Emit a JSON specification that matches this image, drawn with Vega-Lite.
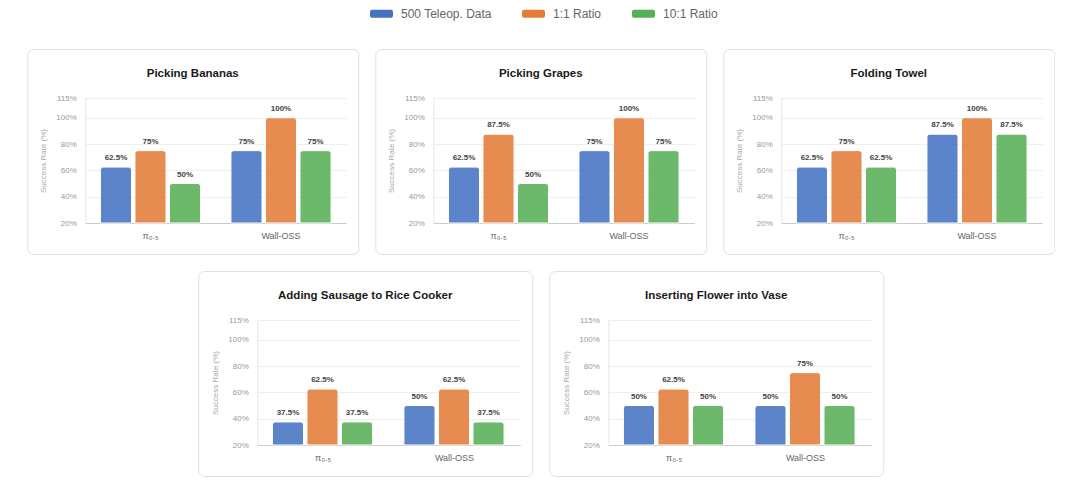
{
  "$schema": "https://vega.github.io/schema/vega-lite/v6.json",
  "background": "white",
  "padding": {"left": 26, "top": 2, "right": 0, "bottom": 0},
  "config": {
    "font": "Liberation Sans",
    "view": {"stroke": "#e0e0e0", "strokeWidth": 1, "cornerRadius": 6, "fill": "white"},
    "title": {"fontSize": 11.5, "fontWeight": "bold", "color": "#1a1a1a", "anchor": "middle", "frame": "group", "offset": -30, "baseline": "middle"},
    "axisY": {"ticks": false, "labelFontSize": 8, "labelColor": "#999999", "labelPadding": 9, "domainColor": "#e8e8e8", "gridColor": "#eeeeee", "titleFontSize": 8, "titleFontWeight": "normal", "titleColor": "#aaaaaa", "titlePadding": 8},
    "axisX": {"ticks": false, "labelAngle": 0, "labelFontSize": 9, "labelColor": "#666666", "labelPadding": 8, "domainColor": "#cccccc", "grid": false}
  },
  "data": {"values": [
    {"task": "Picking Bananas", "model": "π₀.₅", "series": "500 Teleop. Data", "rate": 0.625},
    {"task": "Picking Bananas", "model": "π₀.₅", "series": "1:1 Ratio", "rate": 0.75},
    {"task": "Picking Bananas", "model": "π₀.₅", "series": "10:1 Ratio", "rate": 0.5},
    {"task": "Picking Bananas", "model": "Wall-OSS", "series": "500 Teleop. Data", "rate": 0.75},
    {"task": "Picking Bananas", "model": "Wall-OSS", "series": "1:1 Ratio", "rate": 1.0},
    {"task": "Picking Bananas", "model": "Wall-OSS", "series": "10:1 Ratio", "rate": 0.75},
    {"task": "Picking Grapes", "model": "π₀.₅", "series": "500 Teleop. Data", "rate": 0.625},
    {"task": "Picking Grapes", "model": "π₀.₅", "series": "1:1 Ratio", "rate": 0.875},
    {"task": "Picking Grapes", "model": "π₀.₅", "series": "10:1 Ratio", "rate": 0.5},
    {"task": "Picking Grapes", "model": "Wall-OSS", "series": "500 Teleop. Data", "rate": 0.75},
    {"task": "Picking Grapes", "model": "Wall-OSS", "series": "1:1 Ratio", "rate": 1.0},
    {"task": "Picking Grapes", "model": "Wall-OSS", "series": "10:1 Ratio", "rate": 0.75},
    {"task": "Folding Towel", "model": "π₀.₅", "series": "500 Teleop. Data", "rate": 0.625},
    {"task": "Folding Towel", "model": "π₀.₅", "series": "1:1 Ratio", "rate": 0.75},
    {"task": "Folding Towel", "model": "π₀.₅", "series": "10:1 Ratio", "rate": 0.625},
    {"task": "Folding Towel", "model": "Wall-OSS", "series": "500 Teleop. Data", "rate": 0.875},
    {"task": "Folding Towel", "model": "Wall-OSS", "series": "1:1 Ratio", "rate": 1.0},
    {"task": "Folding Towel", "model": "Wall-OSS", "series": "10:1 Ratio", "rate": 0.875},
    {"task": "Adding Sausage to Rice Cooker", "model": "π₀.₅", "series": "500 Teleop. Data", "rate": 0.375},
    {"task": "Adding Sausage to Rice Cooker", "model": "π₀.₅", "series": "1:1 Ratio", "rate": 0.625},
    {"task": "Adding Sausage to Rice Cooker", "model": "π₀.₅", "series": "10:1 Ratio", "rate": 0.375},
    {"task": "Adding Sausage to Rice Cooker", "model": "Wall-OSS", "series": "500 Teleop. Data", "rate": 0.5},
    {"task": "Adding Sausage to Rice Cooker", "model": "Wall-OSS", "series": "1:1 Ratio", "rate": 0.625},
    {"task": "Adding Sausage to Rice Cooker", "model": "Wall-OSS", "series": "10:1 Ratio", "rate": 0.375},
    {"task": "Inserting Flower into Vase", "model": "π₀.₅", "series": "500 Teleop. Data", "rate": 0.5},
    {"task": "Inserting Flower into Vase", "model": "π₀.₅", "series": "1:1 Ratio", "rate": 0.625},
    {"task": "Inserting Flower into Vase", "model": "π₀.₅", "series": "10:1 Ratio", "rate": 0.5},
    {"task": "Inserting Flower into Vase", "model": "Wall-OSS", "series": "500 Teleop. Data", "rate": 0.5},
    {"task": "Inserting Flower into Vase", "model": "Wall-OSS", "series": "1:1 Ratio", "rate": 0.75},
    {"task": "Inserting Flower into Vase", "model": "Wall-OSS", "series": "10:1 Ratio", "rate": 0.5}
  ]},
  "spacing": 15,
  "center": true,
  "vconcat": [
    {"spacing": 15, "hconcat": [
      {"width": 331, "height": 205, "title": "Picking Bananas",
       "transform": [{"filter": "datum.task === 'Picking Bananas'"}],
       "encoding": {
         "x": {"field": "model", "type": "nominal", "sort": ["π₀.₅", "Wall-OSS"], "scale": {"range": [58, 319], "paddingInner": 0, "paddingOuter": 0}, "axis": {"title": null, "offset": -31}},
         "xOffset": {"field": "series", "type": "nominal", "sort": ["500 Teleop. Data", "1:1 Ratio", "10:1 Ratio"], "scale": {"paddingInner": 0.1, "paddingOuter": 0.44}},
         "y": {"field": "rate", "type": "quantitative", "scale": {"domain": [0.2, 1.15], "range": [174, 49], "zero": false, "nice": false}, "axis": {"title": "Success Rate (%)", "offset": -58, "values": [0.2, 0.4, 0.6, 0.8, 1, 1.15], "format": ".0%"}}
       },
       "layer": [
         {"mark": {"type": "bar", "cornerRadiusTopLeft": 3, "cornerRadiusTopRight": 3, "stroke": "white", "strokeWidth": 1, "opacity": 0.87},
          "encoding": {"y2": {"datum": 0.2}, "color": {"field": "series", "type": "nominal", "sort": ["500 Teleop. Data", "1:1 Ratio", "10:1 Ratio"], "scale": {"domain": ["500 Teleop. Data", "1:1 Ratio", "10:1 Ratio"], "range": ["#4472C4", "#E47C38", "#57AF56"]},
            "legend": {"orient": "none", "legendX": 343, "legendY": -47, "direction": "horizontal", "title": null, "symbolType": "M-0.83,-0.35 L0.83,-0.35 Q1,-0.35 1,-0.18 L1,0.18 Q1,0.35 0.83,0.35 L-0.83,0.35 Q-1,0.35 -1,0.18 L-1,-0.18 Q-1,-0.35 -0.83,-0.35 Z", "symbolSize": 529, "symbolOpacity": 1, "symbolStrokeWidth": 0, "labelFontSize": 12, "labelColor": "#666666", "labelOffset": 8, "columnPadding": 30}}}},
         {"mark": {"type": "text", "dy": -5, "baseline": "bottom", "fontSize": 8, "fontWeight": "bold", "color": "#444444"},
          "encoding": {"text": {"field": "rate", "type": "quantitative", "format": ".1~%"}}}
       ]},
      {"width": 331, "height": 205, "title": "Picking Grapes",
       "transform": [{"filter": "datum.task === 'Picking Grapes'"}],
       "encoding": {
         "x": {"field": "model", "type": "nominal", "sort": ["π₀.₅", "Wall-OSS"], "scale": {"range": [58, 319], "paddingInner": 0, "paddingOuter": 0}, "axis": {"title": null, "offset": -31}},
         "xOffset": {"field": "series", "type": "nominal", "sort": ["500 Teleop. Data", "1:1 Ratio", "10:1 Ratio"], "scale": {"paddingInner": 0.1, "paddingOuter": 0.44}},
         "y": {"field": "rate", "type": "quantitative", "scale": {"domain": [0.2, 1.15], "range": [174, 49], "zero": false, "nice": false}, "axis": {"title": "Success Rate (%)", "offset": -58, "values": [0.2, 0.4, 0.6, 0.8, 1, 1.15], "format": ".0%"}}
       },
       "layer": [
         {"mark": {"type": "bar", "cornerRadiusTopLeft": 3, "cornerRadiusTopRight": 3, "stroke": "white", "strokeWidth": 1, "opacity": 0.87},
          "encoding": {"y2": {"datum": 0.2}, "color": {"field": "series", "type": "nominal", "sort": ["500 Teleop. Data", "1:1 Ratio", "10:1 Ratio"], "scale": {"domain": ["500 Teleop. Data", "1:1 Ratio", "10:1 Ratio"], "range": ["#4472C4", "#E47C38", "#57AF56"]},
            "legend": {"orient": "none", "legendX": 343, "legendY": -47, "direction": "horizontal", "title": null, "symbolType": "M-0.83,-0.35 L0.83,-0.35 Q1,-0.35 1,-0.18 L1,0.18 Q1,0.35 0.83,0.35 L-0.83,0.35 Q-1,0.35 -1,0.18 L-1,-0.18 Q-1,-0.35 -0.83,-0.35 Z", "symbolSize": 529, "symbolOpacity": 1, "symbolStrokeWidth": 0, "labelFontSize": 12, "labelColor": "#666666", "labelOffset": 8, "columnPadding": 30}}}},
         {"mark": {"type": "text", "dy": -5, "baseline": "bottom", "fontSize": 8, "fontWeight": "bold", "color": "#444444"},
          "encoding": {"text": {"field": "rate", "type": "quantitative", "format": ".1~%"}}}
       ]},
      {"width": 331, "height": 205, "title": "Folding Towel",
       "transform": [{"filter": "datum.task === 'Folding Towel'"}],
       "encoding": {
         "x": {"field": "model", "type": "nominal", "sort": ["π₀.₅", "Wall-OSS"], "scale": {"range": [58, 319], "paddingInner": 0, "paddingOuter": 0}, "axis": {"title": null, "offset": -31}},
         "xOffset": {"field": "series", "type": "nominal", "sort": ["500 Teleop. Data", "1:1 Ratio", "10:1 Ratio"], "scale": {"paddingInner": 0.1, "paddingOuter": 0.44}},
         "y": {"field": "rate", "type": "quantitative", "scale": {"domain": [0.2, 1.15], "range": [174, 49], "zero": false, "nice": false}, "axis": {"title": "Success Rate (%)", "offset": -58, "values": [0.2, 0.4, 0.6, 0.8, 1, 1.15], "format": ".0%"}}
       },
       "layer": [
         {"mark": {"type": "bar", "cornerRadiusTopLeft": 3, "cornerRadiusTopRight": 3, "stroke": "white", "strokeWidth": 1, "opacity": 0.87},
          "encoding": {"y2": {"datum": 0.2}, "color": {"field": "series", "type": "nominal", "sort": ["500 Teleop. Data", "1:1 Ratio", "10:1 Ratio"], "scale": {"domain": ["500 Teleop. Data", "1:1 Ratio", "10:1 Ratio"], "range": ["#4472C4", "#E47C38", "#57AF56"]},
            "legend": {"orient": "none", "legendX": 343, "legendY": -47, "direction": "horizontal", "title": null, "symbolType": "M-0.83,-0.35 L0.83,-0.35 Q1,-0.35 1,-0.18 L1,0.18 Q1,0.35 0.83,0.35 L-0.83,0.35 Q-1,0.35 -1,0.18 L-1,-0.18 Q-1,-0.35 -0.83,-0.35 Z", "symbolSize": 529, "symbolOpacity": 1, "symbolStrokeWidth": 0, "labelFontSize": 12, "labelColor": "#666666", "labelOffset": 8, "columnPadding": 30}}}},
         {"mark": {"type": "text", "dy": -5, "baseline": "bottom", "fontSize": 8, "fontWeight": "bold", "color": "#444444"},
          "encoding": {"text": {"field": "rate", "type": "quantitative", "format": ".1~%"}}}
       ]}
    ]},
    {"spacing": 15, "hconcat": [
      {"width": 334, "height": 205, "title": "Adding Sausage to Rice Cooker",
       "transform": [{"filter": "datum.task === 'Adding Sausage to Rice Cooker'"}],
       "encoding": {
         "x": {"field": "model", "type": "nominal", "sort": ["π₀.₅", "Wall-OSS"], "scale": {"range": [59, 322], "paddingInner": 0, "paddingOuter": 0}, "axis": {"title": null, "offset": -31}},
         "xOffset": {"field": "series", "type": "nominal", "sort": ["500 Teleop. Data", "1:1 Ratio", "10:1 Ratio"], "scale": {"paddingInner": 0.1, "paddingOuter": 0.44}},
         "y": {"field": "rate", "type": "quantitative", "scale": {"domain": [0.2, 1.15], "range": [174, 49], "zero": false, "nice": false}, "axis": {"title": "Success Rate (%)", "offset": -59, "values": [0.2, 0.4, 0.6, 0.8, 1, 1.15], "format": ".0%"}}
       },
       "layer": [
         {"mark": {"type": "bar", "cornerRadiusTopLeft": 3, "cornerRadiusTopRight": 3, "stroke": "white", "strokeWidth": 1, "opacity": 0.87},
          "encoding": {"y2": {"datum": 0.2}, "color": {"field": "series", "type": "nominal", "sort": ["500 Teleop. Data", "1:1 Ratio", "10:1 Ratio"], "scale": {"domain": ["500 Teleop. Data", "1:1 Ratio", "10:1 Ratio"], "range": ["#4472C4", "#E47C38", "#57AF56"]},
            "legend": {"orient": "none", "legendX": 343, "legendY": -47, "direction": "horizontal", "title": null, "symbolType": "M-0.83,-0.35 L0.83,-0.35 Q1,-0.35 1,-0.18 L1,0.18 Q1,0.35 0.83,0.35 L-0.83,0.35 Q-1,0.35 -1,0.18 L-1,-0.18 Q-1,-0.35 -0.83,-0.35 Z", "symbolSize": 529, "symbolOpacity": 1, "symbolStrokeWidth": 0, "labelFontSize": 12, "labelColor": "#666666", "labelOffset": 8, "columnPadding": 30}}}},
         {"mark": {"type": "text", "dy": -5, "baseline": "bottom", "fontSize": 8, "fontWeight": "bold", "color": "#444444"},
          "encoding": {"text": {"field": "rate", "type": "quantitative", "format": ".1~%"}}}
       ]},
      {"width": 334, "height": 205, "title": "Inserting Flower into Vase",
       "transform": [{"filter": "datum.task === 'Inserting Flower into Vase'"}],
       "encoding": {
         "x": {"field": "model", "type": "nominal", "sort": ["π₀.₅", "Wall-OSS"], "scale": {"range": [59, 322], "paddingInner": 0, "paddingOuter": 0}, "axis": {"title": null, "offset": -31}},
         "xOffset": {"field": "series", "type": "nominal", "sort": ["500 Teleop. Data", "1:1 Ratio", "10:1 Ratio"], "scale": {"paddingInner": 0.1, "paddingOuter": 0.44}},
         "y": {"field": "rate", "type": "quantitative", "scale": {"domain": [0.2, 1.15], "range": [174, 49], "zero": false, "nice": false}, "axis": {"title": "Success Rate (%)", "offset": -59, "values": [0.2, 0.4, 0.6, 0.8, 1, 1.15], "format": ".0%"}}
       },
       "layer": [
         {"mark": {"type": "bar", "cornerRadiusTopLeft": 3, "cornerRadiusTopRight": 3, "stroke": "white", "strokeWidth": 1, "opacity": 0.87},
          "encoding": {"y2": {"datum": 0.2}, "color": {"field": "series", "type": "nominal", "sort": ["500 Teleop. Data", "1:1 Ratio", "10:1 Ratio"], "scale": {"domain": ["500 Teleop. Data", "1:1 Ratio", "10:1 Ratio"], "range": ["#4472C4", "#E47C38", "#57AF56"]},
            "legend": {"orient": "none", "legendX": 343, "legendY": -47, "direction": "horizontal", "title": null, "symbolType": "M-0.83,-0.35 L0.83,-0.35 Q1,-0.35 1,-0.18 L1,0.18 Q1,0.35 0.83,0.35 L-0.83,0.35 Q-1,0.35 -1,0.18 L-1,-0.18 Q-1,-0.35 -0.83,-0.35 Z", "symbolSize": 529, "symbolOpacity": 1, "symbolStrokeWidth": 0, "labelFontSize": 12, "labelColor": "#666666", "labelOffset": 8, "columnPadding": 30}}}},
         {"mark": {"type": "text", "dy": -5, "baseline": "bottom", "fontSize": 8, "fontWeight": "bold", "color": "#444444"},
          "encoding": {"text": {"field": "rate", "type": "quantitative", "format": ".1~%"}}}
       ]}
    ]}
  ]
}
